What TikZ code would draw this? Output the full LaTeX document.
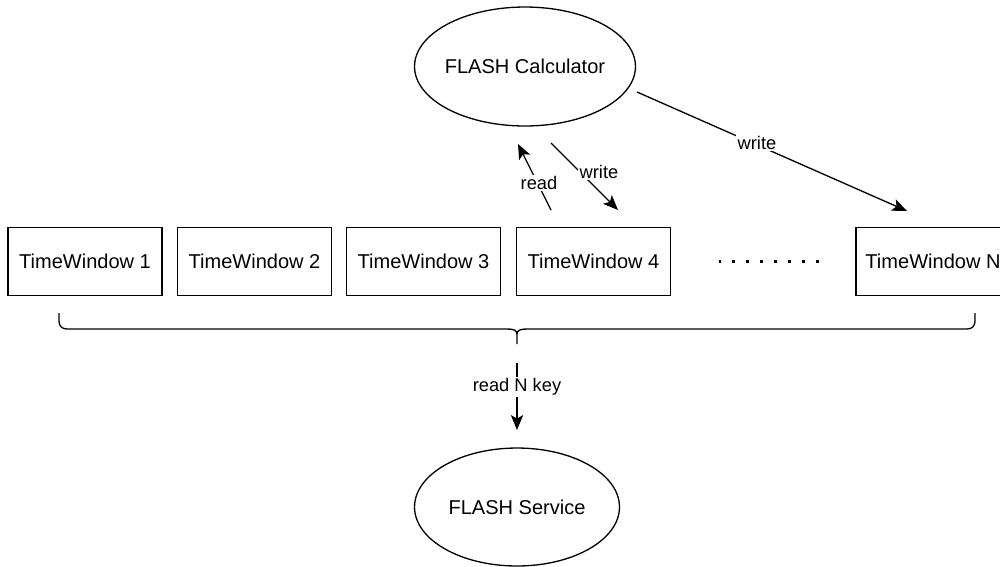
\documentclass[tikz,border=0pt]{standalone}
\usepackage{fontspec}
\setmainfont{Liberation Sans}
\usetikzlibrary{shapes.geometric,arrows.meta}
\begin{document}
\begin{tikzpicture}[x=0.02cm,y=-0.02cm,
  line width=0.75pt,
  every node/.style={font=\fontsize{11.4}{13}\selectfont},
  oval/.style={draw,ellipse,inner sep=0pt},
  win/.style={draw,rectangle,minimum width=3.08cm,minimum height=1.36cm,inner sep=0pt},
  lbl/.style={fill=white,inner sep=1pt,font=\fontsize{10.4}{12}\selectfont},
  arr/.style={-{Stealth[length=8.5pt,width=7pt,inset=2pt]}}]
\useasboundingbox (0,0) rectangle (1000,566);

% processes
\node[oval,minimum width=4.42cm,minimum height=2.38cm,label={center:FLASH Calculator}] (calc) at (525,66.5) {};
\node[oval,minimum width=4.1cm,minimum height=2.36cm,label={center:FLASH Service}] (svc) at (517,507) {};

% time windows
\node[win] (w1) at (85,261.5) {TimeWindow 1};
\node[win] (w2) at (254.5,261.5) {TimeWindow 2};
\node[win] (w3) at (423.5,261.5) {TimeWindow 3};
\node[win] (w4) at (593.5,261.5) {TimeWindow 4};
\node[win] (wn) at (933,261.5) {TimeWindow N};

% ellipsis between window 4 and window N
\draw[line width=1.7pt,dash pattern=on 1.7pt off 6.24pt] (718.5,261) -- (819.5,261);

% brace grouping all windows
\coordinate (bl) at (59,313);
\coordinate (br) at (975,313);
\coordinate (bt) at (517,344);
\draw (bl) -- (59,321) .. controls (59,326) and (62,329) .. (67,329) -- (507,329)
  .. controls (513,329) and (517,330) .. (517,334) -- (bt);
\draw (br) -- (975,321) .. controls (975,326) and (972,329) .. (967,329) -- (527,329)
  .. controls (521,329) and (517,330) .. (517,334);

% connector ends
\coordinate (rd0) at (551,210);
\coordinate (rd1) at (518,144);
\coordinate (wr0) at (551,143);
\coordinate (wr1) at (618,210);
\coordinate (wn0) at (637,92);
\coordinate (wn1) at (907,211);
\coordinate (nk0) at (517,363);
\coordinate (nk1) at (517,430);

% connectors
\draw[arr] (rd0) -- (rd1);
\node[lbl] (rdl) at (539,183) {read};
\draw[arr] (wr0) -- (wr1);
\node[lbl] (wrl) at (599,172) {write};
\draw[arr] (wn0) -- (wn1);
\node[lbl] (wnl) at (757,143) {write};
\draw[arr] (nk0) -- (nk1);
\node[lbl] (nkl) at (517,387) {read N key};
\end{tikzpicture}
\end{document}
